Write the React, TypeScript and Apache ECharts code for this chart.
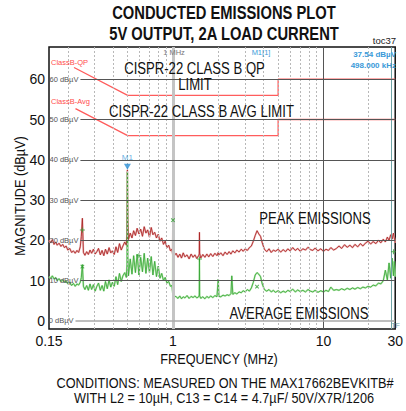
import React, { useEffect, useRef } from "react";
import * as echarts from "echarts";

// Frequency grid (MHz) shared by both measured traces
const freqMHz = [
  0.150, 0.154, 0.158, 0.162, 0.166, 0.170, 0.175, 0.180, 0.185, 0.190,
  0.195, 0.200, 0.206, 0.212, 0.218, 0.224, 0.230, 0.236, 0.242, 0.246,
  0.250, 0.254, 0.260, 0.267, 0.274, 0.281, 0.288, 0.296, 0.304, 0.312,
  0.320, 0.329, 0.338, 0.347, 0.356, 0.366, 0.376, 0.386, 0.396, 0.407,
  0.418, 0.429, 0.441, 0.453, 0.465, 0.478, 0.490, 0.495, 0.498, 0.501,
  0.506, 0.520, 0.534, 0.548, 0.563, 0.578, 0.594, 0.610, 0.627, 0.644,
  0.661, 0.679, 0.698, 0.717, 0.736, 0.756, 0.777, 0.798, 0.820, 0.842,
  0.865, 0.888, 0.912, 0.937, 0.962, 0.985, 0.995, 1.000, 1.005, 1.020,
  1.05, 1.08, 1.11, 1.14, 1.17, 1.20, 1.24, 1.28, 1.32, 1.36,
  1.40, 1.44, 1.48, 1.495, 1.50, 1.505, 1.53, 1.58, 1.63, 1.68,
  1.73, 1.78, 1.84, 1.90, 1.96, 2.00, 2.02, 2.08, 2.15, 2.22,
  2.29, 2.36, 2.43, 2.46, 2.50, 2.58, 2.66, 2.75, 2.84, 2.93,
  3.02, 3.12, 3.22, 3.32, 3.42, 3.52, 3.62, 3.72, 3.82, 3.92,
  4.05, 4.20, 4.35, 4.50, 4.65, 4.80, 5.00, 5.20, 5.40, 5.60,
  5.80, 6.00, 6.25, 6.50, 6.75, 7.00, 7.30, 7.60, 7.90, 8.20,
  8.50, 8.80, 9.20, 9.60, 10.0, 10.4, 10.8, 11.2, 11.7, 12.2,
  12.7, 13.2, 13.8, 14.4, 15.0, 15.6, 16.2, 16.9, 17.6, 18.3,
  19.0, 19.8, 20.6, 21.4, 22.3, 23.2, 24.1, 25.0, 25.8, 26.6,
  27.3, 28.0, 28.6, 29.2, 29.6, 30.0,
];

// Peak emissions (dBµV)
const peakDbuV = [
  20.0, 19.4, 20.2, 19.0, 19.6, 18.8, 19.3, 18.5, 19.0, 18.2,
  18.6, 17.6, 18.0, 17.0, 17.4, 16.8, 17.5, 17.0, 18.4, 21.0,
  25.5, 17.0, 16.3, 17.2, 16.5, 17.6, 16.8, 17.8, 16.6, 17.2,
  18.0, 16.4, 17.5, 16.2, 17.8, 16.6, 18.2, 16.9, 17.4, 16.5,
  18.4, 17.0, 19.2, 17.6, 18.6, 19.6, 18.8, 21.5, 37.5, 25.0,
  20.2, 21.8, 20.6, 22.4, 21.2, 23.0, 21.6, 22.8, 21.0, 23.4,
  21.8, 22.6, 20.8, 23.2, 21.4, 22.0, 20.6, 21.5, 19.8, 20.6,
  19.0, 19.8, 18.2, 18.8, 17.4, 17.8, 16.6, 25.0, 16.8, 16.2,
  16.8, 15.8, 16.6, 15.6, 16.9, 15.9, 16.4, 15.4, 16.6, 15.8,
  16.4, 15.5, 16.2, 16.6, 22.0, 16.8, 15.6, 16.5, 15.8, 16.6,
  15.9, 16.7, 16.0, 16.8, 16.2, 17.0, 16.4, 16.9, 16.2, 17.1,
  16.5, 17.2, 16.6, 17.0, 17.4, 16.9, 17.6, 17.1, 17.8, 17.3,
  17.9, 17.5, 18.2, 18.6, 19.8, 21.2, 22.4, 21.6, 21.0, 19.4,
  17.8, 17.2, 17.9, 17.0, 17.6, 17.3, 17.8, 17.1, 17.7, 17.2,
  17.9, 17.4, 18.2, 17.5, 18.0, 17.3, 17.9, 17.6, 18.3, 17.7,
  17.5, 18.1, 17.4, 17.9, 17.3, 17.8, 17.5, 18.2, 17.6, 18.0,
  18.6, 18.0, 18.9, 18.3, 18.8, 18.2, 19.0, 18.4, 19.2, 18.6,
  19.3, 19.8, 19.1, 19.7, 19.2, 20.0, 19.4, 20.3, 19.6, 20.8,
  20.0, 21.4, 20.3, 21.8, 20.6, 19.4,
];

// Average emissions (dBµV)
const avgDbuV = [
  11.0, 10.6, 11.2, 10.4, 10.8, 10.0, 10.5, 9.8, 10.2, 9.6,
  9.9, 9.2, 9.6, 8.8, 9.3, 8.6, 9.2, 8.9, 9.6, 10.8,
  14.0, 8.6, 7.8, 8.8, 7.6, 9.2, 7.8, 9.0, 7.4, 8.6,
  9.4, 7.6, 8.8, 7.4, 9.8, 8.0, 10.2, 8.4, 9.6, 8.6,
  11.0, 9.0, 11.8, 9.8, 11.2, 12.0, 10.8, 14.0, 37.0, 16.0,
  11.2, 15.4, 11.6, 16.2, 12.0, 16.6, 11.4, 15.8, 12.2, 16.8,
  11.8, 15.6, 12.0, 16.0, 11.4, 14.8, 11.0, 13.6, 10.6, 11.8,
  10.0, 10.8, 9.4, 9.8, 8.6, 8.8, 7.0, 25.0, 6.8, 6.2,
  6.0, 5.6, 6.2, 5.5, 6.0, 5.7, 6.3, 5.6, 6.1, 5.8,
  6.2, 5.7, 6.0, 6.4, 15.4, 6.2, 5.6, 6.0, 5.5, 6.1,
  5.7, 6.2, 5.8, 6.3, 6.0, 10.4, 6.1, 6.0, 6.4, 6.2,
  6.5, 6.3, 6.8, 11.2, 6.6, 7.0, 6.7, 7.2, 7.0, 7.5,
  7.2, 7.8, 7.4, 8.2, 9.6, 11.4, 12.0, 11.6, 11.0, 9.2,
  7.8, 7.4, 7.8, 7.2, 7.6, 7.1, 7.5, 7.0, 7.4, 7.1,
  7.6, 7.3, 7.9, 7.2, 7.7, 7.3, 7.6, 7.2, 7.8, 7.4,
  7.2, 7.6, 7.1, 7.5, 7.2, 7.6, 7.3, 8.4, 7.6, 7.8,
  7.6, 8.0, 7.7, 8.1, 7.8, 8.2, 7.9, 8.3, 8.0, 8.4,
  8.2, 8.6, 8.4, 8.9, 8.7, 9.4, 9.2, 10.0, 12.6, 10.2,
  14.4, 10.6, 15.6, 11.2, 14.8, 11.0,
];

// CISPR-22 Class B limit lines [MHz, dBµV]
const qpLimit = [[0.22, 62.9], [0.5, 56], [5, 56], [5, 60], [30, 60]];
const avgLimit = [[0.225, 52.7], [0.5, 46], [5, 46], [5, 50], [30, 50]];

// Axis ticks
const yTicks = [0, 10, 20, 30, 40, 50, 60];
const minorFreqs = [0.2, 0.3, 0.4, 0.5, 0.6, 0.7, 0.8, 0.9, 2, 3, 4, 5, 6, 7, 8, 9, 20];
const transducerMHz = 28.2;

// Analyzer markers
const plusMarkers = [[0.25, 22.6], [0.594, 16.2], [1.5, 15.4], [29.2, 17.2]];
const crossMarkers = [[0.25, 13.5], [1.0, 25.0], [3.62, 8.5]];
const m1Marker = [[0.498, 38.3]];

const SANS = '"Liberation Sans", Arial, sans-serif';
const CONDENSE = 0.82;

function txt(
  text: string,
  x: number,
  y: number,
  size: number,
  o: { color?: string; weight?: string; align?: string; rotation?: number; sx?: number } = {}
) {
  return {
    type: "text",
    x,
    y,
    z: 100,
    silent: true,
    rotation: o.rotation || 0,
    scaleX: o.sx ?? CONDENSE,
    style: {
      text,
      fill: o.color || "#111",
      font: `${o.weight || "normal"} ${size}px ${SANS}`,
      align: o.align || "center",
      verticalAlign: "middle",
    },
  };
}

export default function App() {
  const ref = useRef<HTMLDivElement>(null);
  useEffect(() => {
    const chart = echarts.init(ref.current!, null, { renderer: "svg" });
    const peakData = freqMHz.map((f, i) => [f, peakDbuV[i]]);
    const avgData = freqMHz.map((f, i) => [f, avgDbuV[i]]);

    const hLines = yTicks.map((v) => [
      {
        coord: [v === 0 ? 0.225 : 0.2426, v],
        lineStyle: { color: v === 0 ? "#a8a8a8" : "#555", width: v === 0 ? 1.5 : 1, type: "solid" },
        label: {
          show: true,
          position: "start",
          formatter: `${v} dBµV`,
          fontSize: 7.5,
          fontFamily: SANS,
          color: "#555",
          distance: 2,
        },
      },
      { coord: [30, v] },
    ]);
    const vMinor = minorFreqs.map((f) => ({
      xAxis: f,
      lineStyle: { color: "#b8b8b8", width: 1, type: [2, 2] },
      label: { show: false },
    }));
    const vMajor = [
      { xAxis: 1, lineStyle: { color: "#c4c4c4", width: 3, type: "solid" }, label: { show: false } },
      { xAxis: 10, lineStyle: { color: "#555", width: 1, type: "solid" }, label: { show: false } },
      { xAxis: transducerMHz, lineStyle: { color: "#6fa3a6", width: 1, type: "solid" }, label: { show: false } },
    ];

    const option: any = {
      animation: false,
      grid: {
        left: 49,
        right: 8,
        top: 47,
        bottom: 82,
        show: true,
        borderColor: "#111",
        borderWidth: 1.5,
        backgroundColor: "#fff",
      },
      xAxis: {
        type: "log",
        logBase: 10,
        min: 0.15,
        max: 30,
        axisLine: { show: false },
        axisTick: { show: false },
        splitLine: { show: false },
        minorSplitLine: { show: false },
        axisLabel: {
          fontFamily: SANS,
          fontSize: 14,
          color: "#111",
          margin: 5,
          formatter: (v: number) => (v < 1 ? String(Math.round(v * 100) / 100) : String(Math.round(v))),
        },
      },
      yAxis: {
        type: "value",
        min: -2,
        max: 68,
        axisLine: { show: false },
        axisTick: { show: false },
        splitLine: { show: false },
        axisLabel: {
          customValues: yTicks,
          fontFamily: SANS,
          fontSize: 14,
          color: "#111",
          margin: 4,
        },
      },
      series: [
        {
          type: "line",
          data: [],
          z: 1,
          silent: true,
          markLine: {
            silent: true,
            animation: false,
            symbol: ["none", "none"],
            label: { show: false },
            data: [...vMinor, ...vMajor, ...hLines],
          },
        },
        {
          type: "line",
          data: qpLimit,
          z: 2,
          symbol: "none",
          silent: true,
          lineStyle: { color: "#ff5c5c", width: 1.3 },
        },
        {
          type: "line",
          data: avgLimit,
          z: 2,
          symbol: "none",
          silent: true,
          lineStyle: { color: "#ff5c5c", width: 1.3 },
        },
        {
          type: "line",
          data: peakData,
          z: 3,
          symbol: "none",
          silent: true,
          lineStyle: { color: "#eab2b2", width: 1.8 },
        },
        {
          type: "line",
          data: peakData,
          z: 4,
          symbol: "none",
          silent: true,
          lineStyle: { color: "#a82020", width: 0.8 },
        },
        {
          type: "line",
          data: avgData,
          z: 3,
          symbol: "none",
          silent: true,
          lineStyle: { color: "#b4e6ac", width: 1.8 },
        },
        {
          type: "line",
          data: avgData,
          z: 4,
          symbol: "none",
          silent: true,
          lineStyle: { color: "#35a535", width: 0.8 },
        },
        {
          type: "scatter",
          data: plusMarkers,
          z: 5,
          silent: true,
          symbol: "path://M4,0H6V4H10V6H6V10H4V6H0V4H4Z",
          symbolSize: 5,
          itemStyle: { color: "#2f9e2f" },
        },
        {
          type: "scatter",
          data: crossMarkers,
          z: 5,
          silent: true,
          symbol: "path://M4,0H6V4H10V6H6V10H4V6H0V4H4Z",
          symbolRotate: 45,
          symbolSize: 5,
          itemStyle: { color: "#2f9e2f" },
        },
        {
          type: "scatter",
          data: m1Marker,
          z: 6,
          silent: true,
          symbol: "triangle",
          symbolRotate: 180,
          symbolSize: [7, 6],
          itemStyle: { color: "#2b8fd6" },
          label: {
            show: true,
            position: "top",
            formatter: "M1",
            color: "#3a9ad9",
            fontSize: 8,
            fontFamily: SANS,
            distance: 2,
          },
        },
      ],
      graphic: [
        txt("CONDUCTED EMISSIONS PLOT", 224, 12, 18, { weight: "bold" }),
        txt("5V OUTPUT, 2A LOAD CURRENT", 224, 33, 18, { weight: "bold" }),
        txt("toc37", 396, 40, 9.5, { align: "right", color: "#222", sx: 1 }),
        txt("1 MHz", 174, 52, 7.5, { color: "#777", sx: 1 }),
        txt("M1[1]", 261, 52, 7.5, { color: "#3a9ad9", sx: 1 }),
        txt("37.54 dBµV", 396, 54, 8, { align: "right", color: "#3a9ad9", weight: "bold", sx: 1 }),
        txt("498.000 kHz", 396, 65, 8, { align: "right", color: "#3a9ad9", weight: "bold", sx: 1 }),
        txt("ClassB-QP", 51, 62, 7.5, { align: "left", color: "#ff4d4d", sx: 1 }),
        txt("ClassB-Avg", 51, 101, 7.5, { align: "left", color: "#ff4d4d", sx: 1 }),
        txt("CISPR-22 CLASS B QP", 194.5, 69, 16),
        txt("LIMIT", 195, 85, 16),
        txt("CISPR-22 CLASS B AVG LIMIT", 201.5, 112, 16),
        txt("PEAK EMISSIONS", 315, 219, 16),
        txt("AVERAGE EMISSIONS", 299, 313.5, 16),
        txt("TF", 395.5, 325, 7, { color: "#6fa3a6", sx: 1 }),
        txt("MAGNITUDE (dBµV)", 20, 196, 15.5, { rotation: Math.PI / 2 }),
        txt("FREQUENCY (MHz)", 219, 359, 15.5),
        txt("CONDITIONS: MEASURED ON THE MAX17662BEVKITB#", 225, 382.5, 15.5),
        txt("WITH L2 = 10µH, C13 = C14 = 4.7µF/ 50V/X7R/1206", 224, 398, 15.5),
      ],
    };
    chart.setOption(option);
    return () => chart.dispose();
  }, []);
  return (
    <div
      ref={ref}
      style={{ position: "absolute", left: 0, top: 0, width: 406, height: 411, background: "#fff" }}
    />
  );
}
